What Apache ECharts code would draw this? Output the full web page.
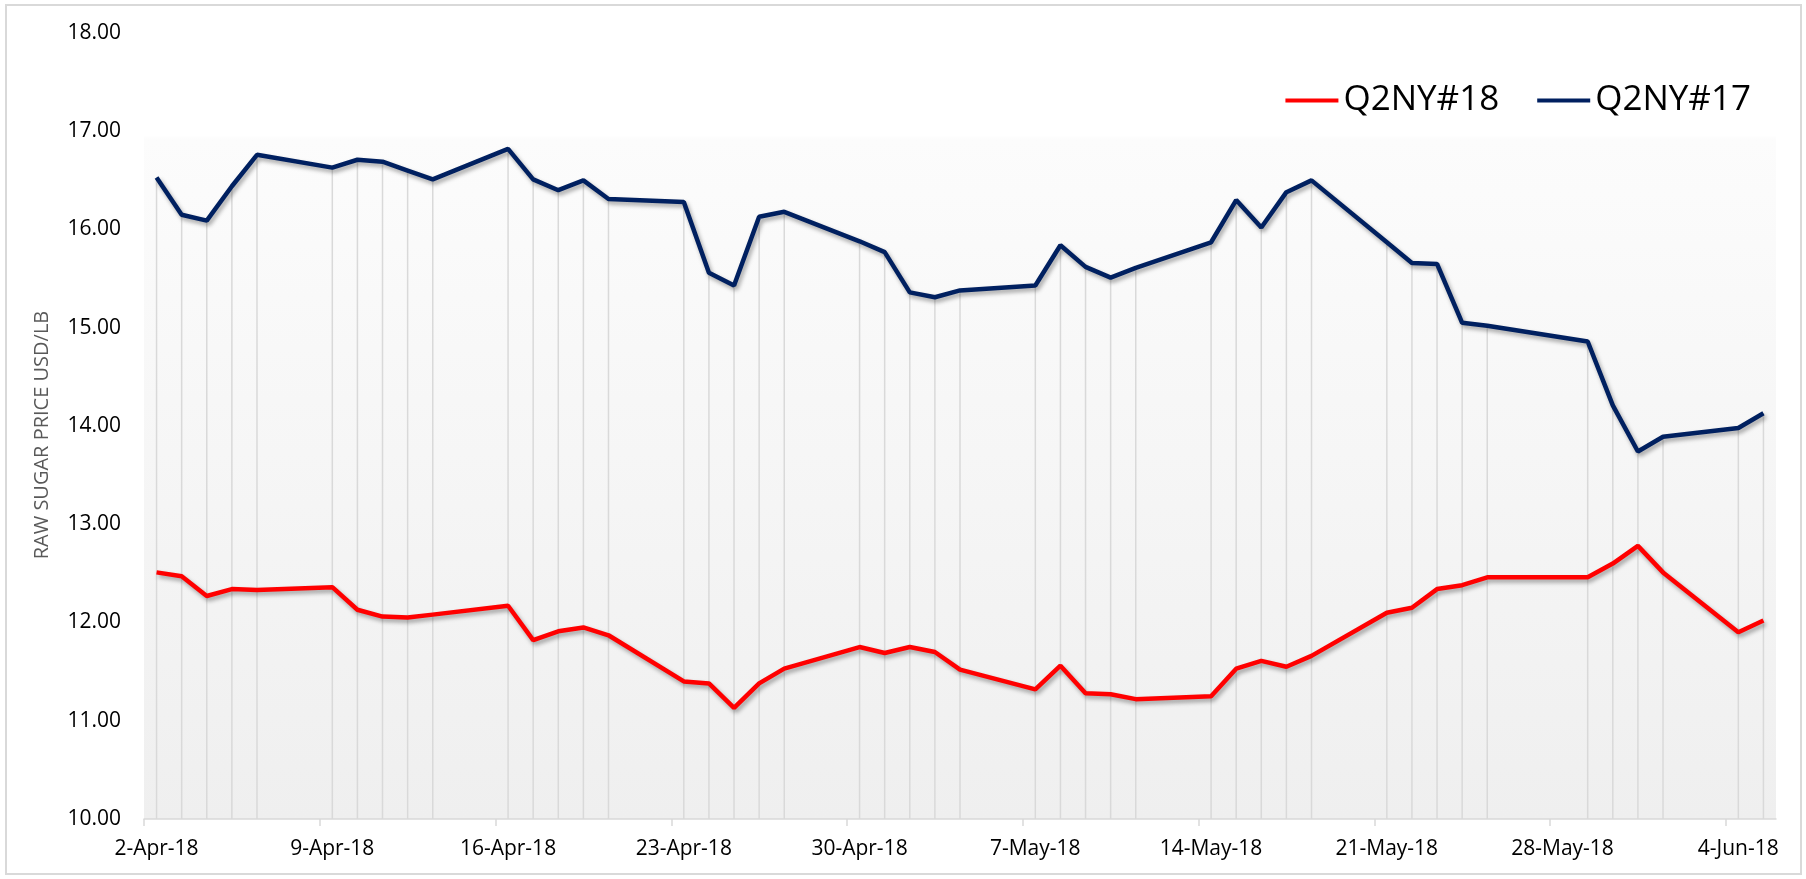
<!DOCTYPE html>
<html>
<head>
    <meta charset="utf-8">
    <script src="https://cdn.jsdelivr.net/npm/echarts@6/dist/echarts.min.js"></script>
</head>
<body style="margin:0;background:#fff">
<div id="main" style="width:1806px;height:879px;"></div>
<script type="text/javascript">
    // trading days
    var dates = ['2018-04-02', '2018-04-03', '2018-04-04', '2018-04-05', '2018-04-06',
        '2018-04-09', '2018-04-10', '2018-04-11', '2018-04-12', '2018-04-13',
        '2018-04-16', '2018-04-17', '2018-04-18', '2018-04-19', '2018-04-20',
        '2018-04-23', '2018-04-24', '2018-04-25', '2018-04-26', '2018-04-27',
        '2018-04-30', '2018-05-01', '2018-05-02', '2018-05-03', '2018-05-04',
        '2018-05-07', '2018-05-08', '2018-05-09', '2018-05-10', '2018-05-11',
        '2018-05-14', '2018-05-15', '2018-05-16', '2018-05-17', '2018-05-18',
        '2018-05-21', '2018-05-22', '2018-05-23', '2018-05-24', '2018-05-25',
        '2018-05-29', '2018-05-30', '2018-05-31', '2018-06-01',
        '2018-06-04', '2018-06-05'];

    var q2ny18 = [12.51, 12.47, 12.27, 12.34, 12.33,
        12.36, 12.13, 12.06, 12.05, 12.08,
        12.17, 11.82, 11.91, 11.95, 11.87,
        11.40, 11.38, 11.13, 11.38, 11.53,
        11.75, 11.69, 11.75, 11.70, 11.52,
        11.32, 11.56, 11.28, 11.27, 11.22,
        11.25, 11.53, 11.61, 11.55, 11.66,
        12.10, 12.15, 12.34, 12.38, 12.46,
        12.46, 12.60, 12.78, 12.51,
        11.90, 12.02];

    var q2ny17 = [16.53, 16.15, 16.09, 16.44, 16.76,
        16.63, 16.71, 16.69, 16.60, 16.51,
        16.82, 16.51, 16.40, 16.50, 16.31,
        16.28, 15.56, 15.43, 16.13, 16.18,
        15.88, 15.77, 15.36, 15.31, 15.38,
        15.43, 15.84, 15.62, 15.51, 15.61,
        15.87, 16.30, 16.02, 16.38, 16.50,
        15.87, 15.66, 15.65, 15.05, 15.02,
        14.86, 14.21, 13.74, 13.89,
        13.98, 14.13];

    var tickDates = ['2018-04-02', '2018-04-09', '2018-04-16', '2018-04-23', '2018-04-30',
        '2018-05-07', '2018-05-14', '2018-05-21', '2018-05-28', '2018-06-04'];

    var startDate = '2018-04-02';
    var endDate = '2018-06-06';
    var months = ['Jan', 'Feb', 'Mar', 'Apr', 'May', 'Jun', 'Jul', 'Aug', 'Sep', 'Oct', 'Nov', 'Dec'];

    function toUTC(s) {
        var p = s.split('-').map(Number);
        return Date.UTC(p[0], p[1] - 1, p[2]);
    }

    // days since the first date, axis is drawn in day units
    function dayOffset(s) {
        return (toUTC(s) - toUTC(startDate)) / 86400000;
    }

    function dayLabel(v) {
        var d = new Date(toUTC(startDate) + v * 86400000);
        return d.getUTCDate() + '-' + months[d.getUTCMonth()] + '-' + String(d.getUTCFullYear()).slice(2);
    }

    // points sit in the middle of their day slot, like the excel date axis
    var xs = dates.map(function (s) { return dayOffset(s) + 0.5; });
    var red = xs.map(function (x, i) { return [x, q2ny18[i]]; });
    var blue = xs.map(function (x, i) { return [x, q2ny17[i]]; });
    var ticks = tickDates.map(dayOffset);

    var font = 'Open Sans';
    var myChart = echarts.init(document.getElementById('main'));

    var lineShadow = {
        shadowColor: 'rgba(0,0,0,0.35)',
        shadowBlur: 4,
        shadowOffsetX: 2,
        shadowOffsetY: 3
    };

    myChart.setOption({
        animation: false,
        graphic: [{
            type: 'rect',
            shape: {x: 6, y: 5, width: 1795, height: 869},
            style: {fill: 'none', stroke: '#d9d9d9', lineWidth: 2},
            z: -10
        }],
        grid: {
            left: 144, right: 30, top: 33, bottom: 60,
            show: true,
            borderWidth: 0,
            backgroundColor: new echarts.graphic.LinearGradient(0, 0, 0, 1, [
                {offset: 0, color: '#ffffff'},
                {offset: 0.13, color: '#ffffff'},
                {offset: 0.135, color: '#fcfcfc'},
                {offset: 1, color: '#efefef'}
            ])
        },
        legend: {
            data: ['Q2NY#18', 'Q2NY#17'],
            right: 50,
            top: 78,
            icon: 'rect',
            itemWidth: 53,
            itemHeight: 4,
            itemGap: 38,
            textStyle: {fontFamily: font, fontSize: 35, color: '#000'}
        },
        xAxis: {
            type: 'value',
            min: 0,
            max: dayOffset(endDate),
            axisLine: {lineStyle: {color: '#d9d9d9', width: 1.5}},
            axisTick: {show: true, customValues: ticks, length: 7, lineStyle: {color: '#d9d9d9', width: 1.5}},
            axisLabel: {
                customValues: ticks,
                formatter: dayLabel,
                fontFamily: font,
                fontSize: 21,
                color: '#000',
                margin: 20,
                padding: [0, 0, 0, 25]
            },
            splitLine: {show: false}
        },
        yAxis: {
            type: 'value',
            min: 10,
            max: 18,
            interval: 1,
            name: 'RAW SUGAR PRICE USD/LB',
            nameLocation: 'middle',
            nameGap: 92,
            nameTextStyle: {fontFamily: font, fontSize: 20, color: '#595959', padding: [0, 18, 0, 0]},
            axisLine: {show: false},
            axisTick: {show: false},
            axisLabel: {
                formatter: function (v) { return v.toFixed(2); },
                fontFamily: font,
                fontSize: 21,
                color: '#000',
                margin: 23
            },
            splitLine: {show: false}
        },
        series: [{
            // drop lines from the top series to the axis
            type: 'custom',
            name: 'drop',
            data: blue,
            silent: true,
            z: 1,
            renderItem: function (params, api) {
                var top = api.coord([api.value(0), api.value(1)]);
                var bottom = api.coord([api.value(0), 10]);
                return {
                    type: 'line',
                    shape: {x1: top[0], y1: top[1], x2: bottom[0], y2: bottom[1]},
                    style: {stroke: '#d9d9d9', lineWidth: 1.5}
                };
            }
        }, {
            name: 'Q2NY#18',
            type: 'line',
            data: red,
            showSymbol: false,
            z: 3,
            itemStyle: {color: '#ff0000'},
            lineStyle: Object.assign({color: '#ff0000', width: 4.5}, lineShadow)
        }, {
            name: 'Q2NY#17',
            type: 'line',
            data: blue,
            showSymbol: false,
            z: 3,
            itemStyle: {color: '#002060'},
            lineStyle: Object.assign({color: '#002060', width: 4.5}, lineShadow)
        }]
    });
</script>
</body>
</html>
